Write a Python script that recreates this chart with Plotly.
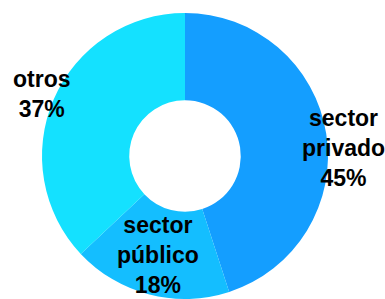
import plotly.graph_objects as go

labels = ["sector<br>privado", "sector<br>público", "otros"]
values = [45, 18, 37]
colors = ["#149EFF", "#14BEFF", "#14E1FF"]

# annotation label positions (pixels in 385x299 canvas)
label_pos = [(343, 148), (158, 255), (42, 94)]

W, H = 385, 299

fig = go.Figure(go.Pie(
    labels=labels,
    values=values,
    hole=0.39,
    sort=False,
    direction="clockwise",
    rotation=0,
    marker=dict(colors=colors, line=dict(width=0)),
    textinfo="none",
    hoverinfo="label+percent",
    domain=dict(x=[40 / W, 330 / W], y=[0, 1 - 13 / H]),
    showlegend=False,
))

total = sum(values)
for lab, val, (px, py) in zip(labels, values, label_pos):
    fig.add_annotation(
        x=px / W, y=1 - py / H, xref="paper", yref="paper",
        text=f"{lab}<br>{round(100 * val / total)}%",
        showarrow=False, align="center",
        xanchor="center", yanchor="middle",
        font=dict(family="Liberation Sans, Arial, sans-serif", size=23, color="black", weight="bold"),
    )

fig.update_layout(
    width=W, height=H,
    margin=dict(l=0, r=0, t=0, b=0),
    paper_bgcolor="white", plot_bgcolor="white",
)

fig.write_html("out.html", config={"displayModeBar": False},
               post_script="document.body.style.margin='0';")
